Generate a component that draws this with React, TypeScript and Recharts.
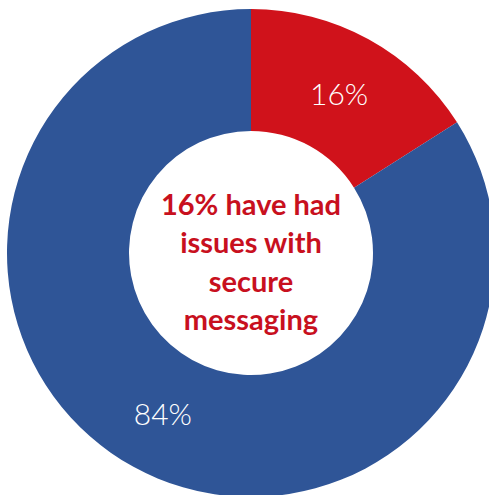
import React from "react";
import { PieChart, Pie, Cell } from "recharts";

const categories = ["Have had issues", "No issues"];
const values = [16, 84];
const sliceLabels = ["16%", "84%"];
const colors = ["#D0121B", "#2F5597"];
const centerLines = ["16% have had", "issues with", "secure", "messaging"];

const data = categories.map((name, i) => ({ name, value: values[i], label: sliceLabels[i] }));

const RAD = Math.PI / 180;
const centerOffsets = [-50, -12, 27, 65];

const renderSliceLabel = (props: any) => {
  const { cx, cy, midAngle, innerRadius, outerRadius, index } = props;
  const r = (innerRadius + outerRadius) / 2;
  const x = cx + r * Math.cos(-midAngle * RAD);
  const y = cy + r * Math.sin(-midAngle * RAD);
  return (
    <g>
      <text
        x={x}
        y={y}
        fill="#ffffff"
        textAnchor="middle"
        dominantBaseline="central"
        fontFamily="Lato, 'Open Sans', sans-serif"
        fontWeight={300}
        fontSize={30}
      >
        {data[index].label}
      </text>
      {index === 0 && (
        <text
          textAnchor="middle"
          fill="#C8101E"
          fontFamily="Lato, 'Open Sans', sans-serif"
          fontWeight={700}
          fontSize={29}
        >
          {centerLines.map((line, i) => (
            <tspan key={i} x={cx} y={cy + centerOffsets[i]} dominantBaseline="central">
              {line}
            </tspan>
          ))}
        </text>
      )}
    </g>
  );
};

export default function App() {
  return (
    <div style={{ position: "absolute", left: 0, top: 0, width: 489, height: 495, background: "#fff" }}>
      <PieChart width={489} height={495} margin={{ top: 0, right: 0, bottom: 0, left: 0 }}>
        <Pie
          data={data}
          dataKey="value"
          nameKey="name"
          cx={251}
          cy={253}
          innerRadius={122}
          outerRadius={244}
          startAngle={90}
          endAngle={-270}
          stroke="none"
          labelLine={false}
          label={renderSliceLabel}
          isAnimationActive={false}
        >
          {data.map((d, i) => (
            <Cell key={d.name} fill={colors[i]} />
          ))}
        </Pie>
      </PieChart>
    </div>
  );
}
